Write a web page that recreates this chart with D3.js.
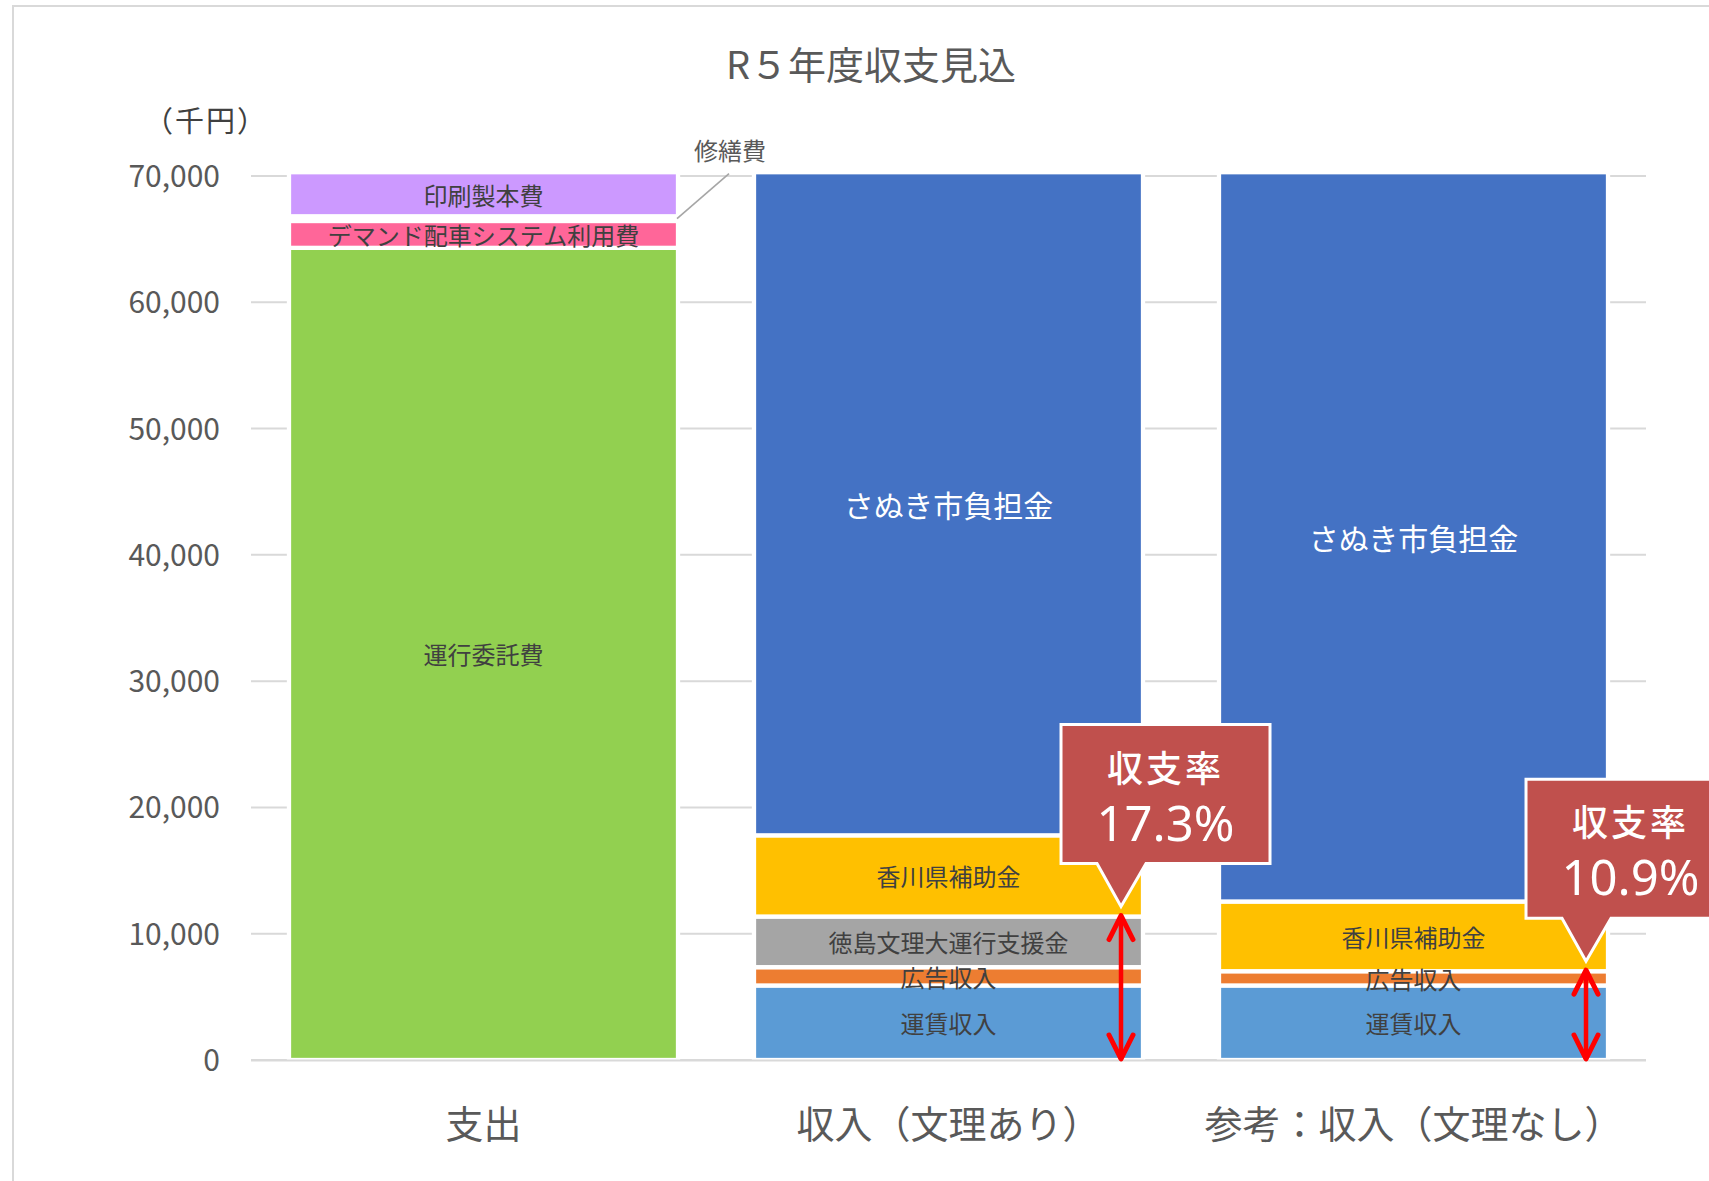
<!DOCTYPE html>
<html>
<head>
<meta charset="utf-8">
<script src="https://cdn.jsdelivr.net/npm/d3@7"></script>
<style>
  body { margin: 0; background: #fff; }
  text { font-family: "Noto Sans CJK JP", "Noto Sans", sans-serif; }
</style>
</head>
<body>
<div id="chart"></div>
<script>
var width = 1709;
var height = 1181;

// data (千円)
var categories = ["支出", "収入（文理あり）", "参考：収入（文理なし）"];
var seriesNames = ["運賃収入", "広告収入", "徳島文理大運行支援金", "香川県補助金", "さぬき市負担金",
                   "運行委託費", "デマンド配車システム利用費", "修繕費", "印刷製本費"];
var unchin  = [0, 5900, 5900];
var koukoku = [0, 1450, 1130];
var bunri   = [0, 4010, 0];
var kagawa  = [0, 6430, 5520];
var sanuki  = [0, 52510, 57750];
var unkou   = [64310, 0, 0];
var demand  = [2130, 0, 0];
var shuzen  = [370, 0, 0];
var insatsu = [3490, 0, 0];
var yTicks = [0, 10000, 20000, 30000, 40000, 50000, 60000, 70000];

// 収支率 callouts
var ratioCats = [categories[1], categories[2]];
var ratioText = ["17.3%", "10.9%"];
var ratioTop = ["徳島文理大運行支援金", "広告収入"];

var seriesValues = [unchin, koukoku, bunri, kagawa, sanuki, unkou, demand, shuzen, insatsu];
var colors = {
  "運賃収入": "#5B9BD5",
  "広告収入": "#ED7D31",
  "徳島文理大運行支援金": "#A5A5A5",
  "香川県補助金": "#FFC000",
  "さぬき市負担金": "#4472C4",
  "運行委託費": "#92D050",
  "デマンド配車システム利用費": "#FF6699",
  "修繕費": "#FFFFFF",
  "印刷製本費": "#CC99FF"
};

var rows = categories.map(function(c, i) {
  var r = { cat: c };
  seriesNames.forEach(function(s, k) { r[s] = seriesValues[k][i]; });
  return r;
});
var stacked = d3.stack().keys(seriesNames)(rows);

var svg = d3.select("#chart").append("svg")
  .attr("width", width)
  .attr("height", height);

// chart area border
svg.append("rect")
  .attr("x", 13).attr("y", 6)
  .attr("width", 1720).attr("height", 1200)
  .attr("fill", "none")
  .attr("stroke", "#D9D9D9")
  .attr("stroke-width", 2);

var xScale = d3.scaleBand()
  .domain(categories)
  .range([251, 1646])
  .paddingInner(0.1634)
  .paddingOuter(0.0817);

var yScale = d3.scaleLinear()
  .domain([0, 70000])
  .range([1060, 176]);

// gridlines
svg.append("g").selectAll("line").data(yTicks).enter().append("line")
  .attr("x1", 251).attr("x2", 1646)
  .attr("y1", function(d) { return yScale(d); })
  .attr("y2", function(d) { return yScale(d); })
  .attr("stroke", "#D9D9D9")
  .attr("stroke-width", 2);

// y axis labels
var yAxis = d3.axisLeft(yScale).tickValues(yTicks).tickFormat(d3.format(",")).tickSize(0).tickPadding(0);
var yg = svg.append("g").attr("transform", "translate(220,0)").call(yAxis);
yg.select(".domain").remove();
yg.selectAll("text")
  .attr("font-size", 30)
  .attr("fill", "#595959")
  .attr("dy", "0.35em")
  .style("font-family", "'Noto Sans CJK JP', sans-serif");

// bars
var segs = [];
stacked.forEach(function(layer) {
  layer.forEach(function(d, i) {
    if (d[1] - d[0] > 0) segs.push({ key: layer.key, cat: categories[i], y0: d[0], y1: d[1] });
  });
});

svg.append("g").selectAll("rect").data(segs).enter().append("rect")
  .attr("x", function(d) { return xScale(d.cat); })
  .attr("width", xScale.bandwidth())
  .attr("y", function(d) { return yScale(d.y1); })
  .attr("height", function(d) { return yScale(d.y0) - yScale(d.y1); })
  .attr("fill", function(d) { return colors[d.key]; })
  .attr("stroke", "#FFFFFF")
  .attr("stroke-width", 4.3);

// baseline
svg.append("line")
  .attr("x1", 251).attr("x2", 1646)
  .attr("y1", yScale(0) + 0.5).attr("y2", yScale(0) + 0.5)
  .attr("stroke", "#D9D9D9")
  .attr("stroke-width", 2);

// segment labels
svg.append("g").selectAll("text").data(segs.filter(function(d) { return d.key !== "修繕費"; }))
  .enter().append("text")
  .attr("x", function(d) { return xScale(d.cat) + xScale.bandwidth() / 2; })
  .attr("y", function(d) { return yScale((d.y0 + d.y1) / 2); })
  .attr("text-anchor", "middle")
  .attr("dominant-baseline", "central")
  .attr("font-size", function(d) { return d.key === "さぬき市負担金" ? 30 : 24; })
  .attr("fill", function(d) { return d.key === "さぬき市負担金" ? "#FFFFFF" : "#404040"; })
  .text(function(d) { return d.key; });

// 修繕費 leader label
var sz = segs.filter(function(d) { return d.key === "修繕費"; })[0];
var lx = xScale(sz.cat) + xScale.bandwidth() - 1;
var ly = yScale((sz.y0 + sz.y1) / 2);
svg.append("line")
  .attr("x1", lx).attr("y1", ly)
  .attr("x2", lx + 52).attr("y2", ly - 45)
  .attr("stroke", "#A6A6A6")
  .attr("stroke-width", 1.6);
svg.append("text")
  .attr("x", lx + 53).attr("y", ly - 69)
  .attr("text-anchor", "middle")
  .attr("dominant-baseline", "central")
  .attr("font-size", 24)
  .attr("fill", "#595959")
  .text(sz.key);

// category labels
svg.append("g").selectAll("text").data(categories).enter().append("text")
  .attr("x", function(d) { return xScale(d) + xScale.bandwidth() / 2; })
  .attr("y", 1121)
  .attr("text-anchor", "middle")
  .attr("dominant-baseline", "central")
  .attr("font-size", 38)
  .attr("fill", "#595959")
  .text(function(d) { return d; });

// title and unit
svg.append("text")
  .attr("x", 871).attr("y", 62)
  .attr("text-anchor", "middle")
  .attr("dominant-baseline", "central")
  .attr("font-size", 38)
  .attr("fill", "#595959")
  .text("R５年度収支見込");

svg.append("text")
  .attr("x", 206).attr("y", 119)
  .attr("text-anchor", "middle")
  .attr("dominant-baseline", "central")
  .attr("font-size", 29)
  .attr("letter-spacing", 2)
  .attr("fill", "#404040")
  .text("（千円）");

// 収支率 arrows and callouts
ratioCats.forEach(function(cat, i) {
  var ci = categories.indexOf(cat);
  var layer = stacked[seriesNames.indexOf(ratioTop[i])];
  var topVal = layer[ci][1];
  var ax = xScale(cat) + xScale.bandwidth() - 22;
  var yTop = yScale(topVal) - 1;
  var yBot = yScale(0) - 1;

  var g = svg.append("g");
  g.append("line")
    .attr("x1", ax).attr("x2", ax)
    .attr("y1", yTop + 2).attr("y2", yBot - 2)
    .attr("stroke", "#FF0000").attr("stroke-width", 4.5);
  g.append("path")
    .attr("d", "M" + (ax - 12) + "," + (yTop + 24) + "L" + ax + "," + yTop + "L" + (ax + 12) + "," + (yTop + 24) +
               "M" + (ax - 12) + "," + (yBot - 24) + "L" + ax + "," + yBot + "L" + (ax + 12) + "," + (yBot - 24))
    .attr("fill", "none")
    .attr("stroke", "#FF0000")
    .attr("stroke-width", 5)
    .attr("stroke-linecap", "round")
    .attr("stroke-linejoin", "round");

  var tx = ax, ty = yScale(topVal) - 10;
  var left = tx - 60, right = left + 209, top = ty - 182, bottom = ty - 43;
  g.append("path")
    .attr("d", "M" + left + "," + top + "H" + right + "V" + bottom + "H" + (tx + 25) +
               "L" + tx + "," + ty + "L" + (tx - 24) + "," + bottom + "H" + left + "Z")
    .attr("fill", "#C0504D")
    .attr("stroke", "#FFFFFF")
    .attr("stroke-width", 3)
    .attr("stroke-linejoin", "miter");
  g.append("text")
    .attr("x", left + 104.5).attr("y", top + 41)
    .attr("text-anchor", "middle")
    .attr("dominant-baseline", "central")
    .attr("font-size", 36)
    .attr("font-weight", 500)
    .attr("letter-spacing", 3)
    .attr("fill", "#FFFFFF")
    .text("収支率");
  g.append("text")
    .attr("x", left + 104.5).attr("y", top + 97)
    .attr("text-anchor", "middle")
    .attr("dominant-baseline", "central")
    .attr("font-size", 49)
    .attr("fill", "#FFFFFF")
    .style("font-family", "'Noto Sans', sans-serif")
    .text(ratioText[i]);
});
</script>
</body>
</html>
